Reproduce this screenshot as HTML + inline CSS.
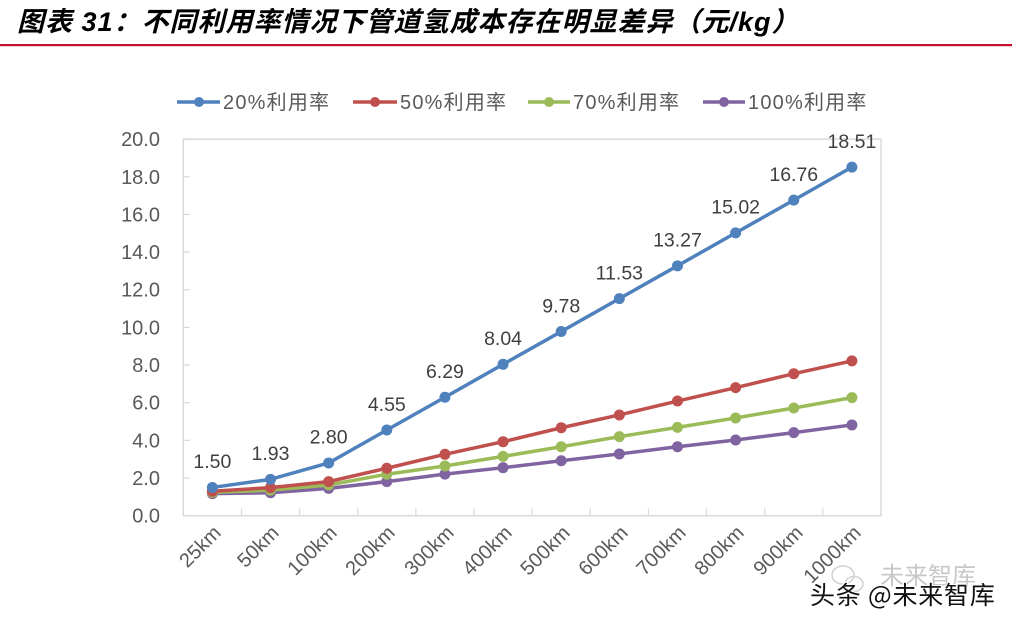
<!DOCTYPE html>
<html>
<head>
<meta charset="utf-8">
<style>
html,body{margin:0;padding:0;background:#fff;}
svg{display:block;}
</style>
</head>
<body>
<svg width="1012" height="624" viewBox="0 0 1012 624" xmlns="http://www.w3.org/2000/svg">
<rect x="0" y="0" width="1012" height="624" fill="#fff"/>
<!-- Title -->
<text x="17" y="31" font-family="'Liberation Sans','Noto Sans CJK SC',sans-serif" font-size="27" font-weight="bold" font-style="italic" letter-spacing="1" fill="#000">图表 31：不同利用率情况下管道氢成本存在明显差异（元/kg）</text>
<rect x="0" y="44" width="1012" height="2.2" fill="#c8102e"/>

<!-- Legend -->
<g font-family="'Liberation Sans','Noto Sans CJK SC',sans-serif" font-size="20" fill="#595959" letter-spacing="1.2">
  <line x1="177" y1="102" x2="220" y2="102" stroke="#4f81bd" stroke-width="3.5"/>
  <circle cx="199" cy="102" r="5" fill="#4f81bd"/>
  <text x="223" y="109">20%利用率</text>
  <line x1="353" y1="102" x2="397" y2="102" stroke="#c0504d" stroke-width="3.5"/>
  <circle cx="375" cy="102" r="5" fill="#c0504d"/>
  <text x="400" y="109">50%利用率</text>
  <line x1="528" y1="102" x2="570" y2="102" stroke="#9bbb59" stroke-width="3.5"/>
  <circle cx="549" cy="102" r="5" fill="#9bbb59"/>
  <text x="573" y="109">70%利用率</text>
  <line x1="703" y1="102" x2="745" y2="102" stroke="#8064a2" stroke-width="3.5"/>
  <circle cx="724" cy="102" r="5" fill="#8064a2"/>
  <text x="748" y="109">100%利用率</text>
</g>

<!-- Plot frame -->
<rect x="183.3" y="139.1" width="697.7" height="376.6" fill="none" stroke="#d9d9d9" stroke-width="1.5"/>

<!-- Y ticks -->
<g stroke="#d9d9d9" stroke-width="1.2">
  <line x1="183.3" y1="478.04" x2="190" y2="478.04"/>
  <line x1="183.3" y1="440.38" x2="190" y2="440.38"/>
  <line x1="183.3" y1="402.72" x2="190" y2="402.72"/>
  <line x1="183.3" y1="365.06" x2="190" y2="365.06"/>
  <line x1="183.3" y1="327.4" x2="190" y2="327.4"/>
  <line x1="183.3" y1="289.74" x2="190" y2="289.74"/>
  <line x1="183.3" y1="252.08" x2="190" y2="252.08"/>
  <line x1="183.3" y1="214.42" x2="190" y2="214.42"/>
  <line x1="183.3" y1="176.76" x2="190" y2="176.76"/>
</g>
<!-- X ticks -->
<g stroke="#d9d9d9" stroke-width="1.2">
  <line x1="241.44" y1="508.5" x2="241.44" y2="515.7"/>
  <line x1="299.58" y1="508.5" x2="299.58" y2="515.7"/>
  <line x1="357.72" y1="508.5" x2="357.72" y2="515.7"/>
  <line x1="415.86" y1="508.5" x2="415.86" y2="515.7"/>
  <line x1="474.0" y1="508.5" x2="474.0" y2="515.7"/>
  <line x1="532.14" y1="508.5" x2="532.14" y2="515.7"/>
  <line x1="590.28" y1="508.5" x2="590.28" y2="515.7"/>
  <line x1="648.42" y1="508.5" x2="648.42" y2="515.7"/>
  <line x1="706.56" y1="508.5" x2="706.56" y2="515.7"/>
  <line x1="764.7" y1="508.5" x2="764.7" y2="515.7"/>
  <line x1="822.84" y1="508.5" x2="822.84" y2="515.7"/>
</g>

<!-- Y labels -->
<g font-family="'Liberation Sans',sans-serif" font-size="20" fill="#595959" text-anchor="end">
  <text x="160" y="522.7">0.0</text>
  <text x="160" y="485.0">2.0</text>
  <text x="160" y="447.4">4.0</text>
  <text x="160" y="409.7">6.0</text>
  <text x="160" y="372.1">8.0</text>
  <text x="160" y="334.4">10.0</text>
  <text x="160" y="296.7">12.0</text>
  <text x="160" y="259.1">14.0</text>
  <text x="160" y="221.4">16.0</text>
  <text x="160" y="183.8">18.0</text>
  <text x="160" y="146.1">20.0</text>
</g>

<!-- X labels -->
<g font-family="'Liberation Sans',sans-serif" font-size="20" fill="#595959" text-anchor="end">
  <text transform="translate(222,534) rotate(-45)">25km</text>
  <text transform="translate(280,534) rotate(-45)">50km</text>
  <text transform="translate(338,534) rotate(-45)">100km</text>
  <text transform="translate(396,534) rotate(-45)">200km</text>
  <text transform="translate(455,534) rotate(-45)">300km</text>
  <text transform="translate(513,534) rotate(-45)">400km</text>
  <text transform="translate(571,534) rotate(-45)">500km</text>
  <text transform="translate(629,534) rotate(-45)">600km</text>
  <text transform="translate(687,534) rotate(-45)">700km</text>
  <text transform="translate(745,534) rotate(-45)">800km</text>
  <text transform="translate(804,534) rotate(-45)">900km</text>
  <text transform="translate(862,534) rotate(-45)">1000km</text>
</g>

<!-- Series: purple (100%) -->
<g>
  <polyline fill="none" stroke="#8064a2" stroke-width="3.5" stroke-linejoin="round" points="212.37,493.67 270.51,492.73 328.65,488.40 386.79,481.62 444.93,474.09 503.07,467.68 561.21,460.72 619.35,453.94 677.49,446.78 735.63,440.00 793.77,432.66 851.91,424.94"/>
  <g fill="#8064a2">
    <circle cx="212.37" cy="493.67" r="5.5"/><circle cx="270.51" cy="492.73" r="5.5"/><circle cx="328.65" cy="488.40" r="5.5"/><circle cx="386.79" cy="481.62" r="5.5"/><circle cx="444.93" cy="474.09" r="5.5"/><circle cx="503.07" cy="467.68" r="5.5"/><circle cx="561.21" cy="460.72" r="5.5"/><circle cx="619.35" cy="453.94" r="5.5"/><circle cx="677.49" cy="446.78" r="5.5"/><circle cx="735.63" cy="440.00" r="5.5"/><circle cx="793.77" cy="432.66" r="5.5"/><circle cx="851.91" cy="424.94" r="5.5"/>
  </g>
</g>
<!-- Series: green (70%) -->
<g>
  <polyline fill="none" stroke="#9bbb59" stroke-width="3.5" stroke-linejoin="round" points="212.37,492.35 270.51,490.09 328.65,485.01 386.79,474.27 444.93,466.00 503.07,456.39 561.21,446.78 619.35,436.61 677.49,427.39 735.63,417.97 793.77,407.99 851.91,397.64"/>
  <g fill="#9bbb59">
    <circle cx="212.37" cy="492.35" r="5.5"/><circle cx="270.51" cy="490.09" r="5.5"/><circle cx="328.65" cy="485.01" r="5.5"/><circle cx="386.79" cy="474.27" r="5.5"/><circle cx="444.93" cy="466.00" r="5.5"/><circle cx="503.07" cy="456.39" r="5.5"/><circle cx="561.21" cy="446.78" r="5.5"/><circle cx="619.35" cy="436.61" r="5.5"/><circle cx="677.49" cy="427.39" r="5.5"/><circle cx="735.63" cy="417.97" r="5.5"/><circle cx="793.77" cy="407.99" r="5.5"/><circle cx="851.91" cy="397.64" r="5.5"/>
  </g>
</g>
<!-- Series: red (50%) -->
<g>
  <polyline fill="none" stroke="#c0504d" stroke-width="3.5" stroke-linejoin="round" points="212.37,491.22 270.51,487.64 328.65,481.62 386.79,468.25 444.93,454.31 503.07,441.70 561.21,427.76 619.35,414.96 677.49,401.02 735.63,387.66 793.77,373.72 851.91,360.92"/>
  <g fill="#c0504d">
    <circle cx="212.37" cy="491.22" r="5.5"/><circle cx="270.51" cy="487.64" r="5.5"/><circle cx="328.65" cy="481.62" r="5.5"/><circle cx="386.79" cy="468.25" r="5.5"/><circle cx="444.93" cy="454.31" r="5.5"/><circle cx="503.07" cy="441.70" r="5.5"/><circle cx="561.21" cy="427.76" r="5.5"/><circle cx="619.35" cy="414.96" r="5.5"/><circle cx="677.49" cy="401.02" r="5.5"/><circle cx="735.63" cy="387.66" r="5.5"/><circle cx="793.77" cy="373.72" r="5.5"/><circle cx="851.91" cy="360.92" r="5.5"/>
  </g>
</g>
<!-- Series: blue (20%) -->
<g>
  <polyline fill="none" stroke="#4f81bd" stroke-width="3.5" stroke-linejoin="round" points="212.37,487.45 270.51,479.36 328.65,462.98 386.79,430.02 444.93,397.26 503.07,364.31 561.21,331.54 619.35,298.59 677.49,265.82 735.63,232.87 793.77,200.11 851.91,167.16"/>
  <g fill="#4f81bd">
    <circle cx="212.37" cy="487.45" r="5.5"/><circle cx="270.51" cy="479.36" r="5.5"/><circle cx="328.65" cy="462.98" r="5.5"/><circle cx="386.79" cy="430.02" r="5.5"/><circle cx="444.93" cy="397.26" r="5.5"/><circle cx="503.07" cy="364.31" r="5.5"/><circle cx="561.21" cy="331.54" r="5.5"/><circle cx="619.35" cy="298.59" r="5.5"/><circle cx="677.49" cy="265.82" r="5.5"/><circle cx="735.63" cy="232.87" r="5.5"/><circle cx="793.77" cy="200.11" r="5.5"/><circle cx="851.91" cy="167.16" r="5.5"/>
  </g>
</g>

<!-- Data labels -->
<g font-family="'Liberation Sans',sans-serif" font-size="19.5" fill="#404040" text-anchor="middle">
  <text x="212.37" y="468.2">1.50</text>
  <text x="270.51" y="460.1">1.93</text>
  <text x="328.65" y="443.7">2.80</text>
  <text x="386.79" y="410.8">4.55</text>
  <text x="444.93" y="378.0">6.29</text>
  <text x="503.07" y="345.1">8.04</text>
  <text x="561.21" y="312.3">9.78</text>
  <text x="619.35" y="279.3">11.53</text>
  <text x="677.49" y="246.6">13.27</text>
  <text x="735.63" y="213.6">15.02</text>
  <text x="793.77" y="180.9">16.76</text>
  <text x="851.91" y="147.9">18.51</text>
</g>

<!-- Watermark -->
<g>
  <text x="880" y="584" font-family="'Noto Sans CJK SC',sans-serif" font-size="24" fill="#c8c8c8">未来智库</text>
  <g fill="none" stroke="#d0d0d0" stroke-width="1.5">
    <ellipse cx="843" cy="575" rx="11" ry="9"/>
    <ellipse cx="854" cy="584" rx="9" ry="7.5"/>
  </g>
  <text x="810" y="604" font-family="'Noto Sans CJK SC',sans-serif" font-size="25" letter-spacing="0.8" fill="#111" stroke="#fff" stroke-width="2" paint-order="stroke">头条 @未来智库</text>
</g>
</svg>
</body>
</html>
